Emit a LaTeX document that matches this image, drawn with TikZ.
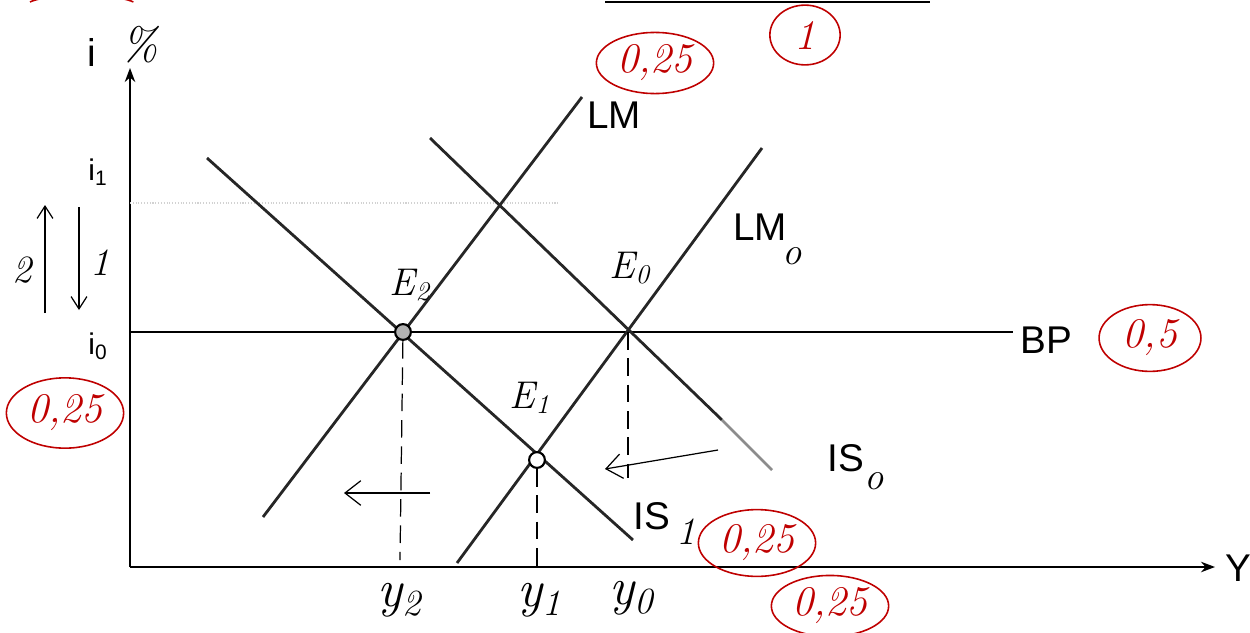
\documentclass[tikz,border=0pt]{standalone}
\usepackage{fontspec}
\setsansfont{Liberation Sans}
\usetikzlibrary{arrows.meta,shapes.geometric}
\begin{document}
\begin{tikzpicture}[x=0.02cm,y=-0.02cm,
  curve/.style={line width=1.6pt,black!85},
  axis/.style={line width=0.9pt,-{Stealth[length=8pt,width=6pt]}},
  guide/.style={line width=0.7pt,dashed,dash pattern=on 10pt off 5pt},
  lbl/.style={font=\sffamily\fontsize{22}{26}\selectfont,inner sep=0pt},
  slbl/.style={font=\sffamily\fontsize{17}{20}\selectfont,inner sep=0pt},
  hand/.style={font=\itshape\fontsize{22}{26}\selectfont,inner sep=0pt},
  redmark/.style={draw=red!75!black,line width=0.9pt,ellipse,inner sep=2pt,text=red!75!black,font=\itshape\fontsize{24}{28}\selectfont},
  eqpt/.style={circle,draw,line width=1.2pt,fill=gray!60,inner sep=0pt,minimum size=9pt},
  move/.style={line width=0.7pt,-{Straight Barb[length=9pt,width=14pt]}}
]
\useasboundingbox (0,0) rectangle (1250,632);
% axes
\coordinate (O) at (130,567);
\coordinate (ytop) at (130,68);
\coordinate (xend) at (1215,567);
\draw[axis] (O) -- (ytop);
\draw[axis] (O) -- (xend);
\node[lbl] (ilab) at (92,52) {i};
\node[hand,font=\itshape\fontsize{26}{30}\selectfont] (pct) at (140,45) {\%};
\node[lbl] (Ylab) at (1238,568) {Y};
% i1 faint guide
\coordinate (i1a) at (130,203);
\coordinate (i1b) at (560,203);
\draw[gray!35,line width=0.6pt,densely dotted] (i1a) -- (i1b);
\node[slbl] (i1) at (98,172) {i\textsubscript{1}};
\node[slbl] (i0) at (98,346) {i\textsubscript{0}};
% BP
\coordinate (bpa) at (130,332);
\coordinate (bpb) at (1013,332);
\draw[line width=0.8pt] (bpa) -- (bpb);
\node[lbl] (BP) at (1046,340) {BP};
% interest arrows
\coordinate (u1) at (45,313);
\coordinate (u2) at (45,205);
\coordinate (d1) at (79,207);
\coordinate (d2) at (79,310);
\draw[move,-{Straight Barb[length=7pt,width=9pt]}] (u1) -- (u2);
\draw[move,-{Straight Barb[length=7pt,width=9pt]}] (d1) -- (d2);
\node[hand] (two) at (22,270) {2};
\node[hand] (one) at (100,263) {1};
% curves
\coordinate (lma) at (263,517);
\coordinate (lmb) at (582,97);
\draw[curve] (lma) -- (lmb);
\node[lbl] (LM) at (614,115) {LM};
\coordinate (lm0a) at (457,563);
\coordinate (lm0b) at (762,148);
\draw[curve] (lm0a) -- (lm0b);
\node[lbl] (LM0) at (760,227) {LM};
\node[hand] (LM0s) at (792,256) {o};
\coordinate (is0a) at (430,138);
\coordinate (is0b) at (722,420);
\coordinate (is0c) at (772,470);
\draw[curve] (is0a) -- (is0b);
\draw[curve,black!45] (is0b) -- (is0c);
\node[lbl] (IS0) at (846,458) {IS};
\node[hand] (IS0s) at (874,481) {o};
\coordinate (is1a) at (207,158);
\coordinate (is1b) at (633,540);
\draw[curve] (is1a) -- (is1b);
\node[lbl] (IS1) at (652,516) {IS};
\node[hand] (IS1s) at (686,532) {1};
% equilibria
\node[eqpt] (E2) at (403,332) {};
\node[eqpt,fill=white] (E1) at (537,460) {};
\coordinate (E0) at (628,332);
\node[hand] (E2l) at (410,285) {E\textsubscript{2}};
\node[hand] (E0l) at (630,268) {E\textsubscript{0}};
\node[hand] (E1l) at (530,398) {E\textsubscript{1}};
% dashed guides
\coordinate (y2b) at (400,560);
\coordinate (y1b) at (537,567);
\coordinate (y0b) at (628,478);
\draw[guide] (E2) -- (y2b);
\draw[guide] (E1) -- (y1b);
\draw[guide] (E0) -- (y0b);
\node[hand,font=\itshape\fontsize{30}{34}\selectfont] (y2) at (400,600) {y\textsubscript{2}};
\node[hand,font=\itshape\fontsize{30}{34}\selectfont] (y1) at (540,600) {y\textsubscript{1}};
\node[hand,font=\itshape\fontsize{30}{34}\selectfont] (y0) at (632,598) {y\textsubscript{0}};
% movement arrows
\coordinate (m1a) at (430,493);
\coordinate (m1b) at (344,493);
\draw[move] (m1a) -- (m1b);
\coordinate (m2a) at (718,450);
\coordinate (m2b) at (605,469);
\draw[move] (m2a) -- (m2b);
% top rule
\coordinate (ta) at (605,2);
\coordinate (tb) at (930,2);
\draw[line width=1pt] (ta) -- (tb);
% red marks
\node[redmark,minimum width=57pt,minimum height=34pt] (r1) at (655,63) {0,25};
\node[redmark,minimum width=40pt,minimum height=34pt] (r2) at (805,35) {1};
\node[redmark,minimum width=60pt,minimum height=40pt] (r3) at (65,413) {0,25};
\node[redmark,minimum width=58pt,minimum height=38pt] (r4) at (1150,338) {0,5};
\node[redmark,minimum width=62pt,minimum height=38pt] (r5) at (757,543) {0,25};
\node[redmark,minimum width=62pt,minimum height=34pt] (r6) at (830,606) {0,25};
\draw[red!75!black,line width=0.9pt] (30,2) arc[start angle=200,end angle=340,x radius=55,y radius=10];
\end{tikzpicture}
\end{document}
